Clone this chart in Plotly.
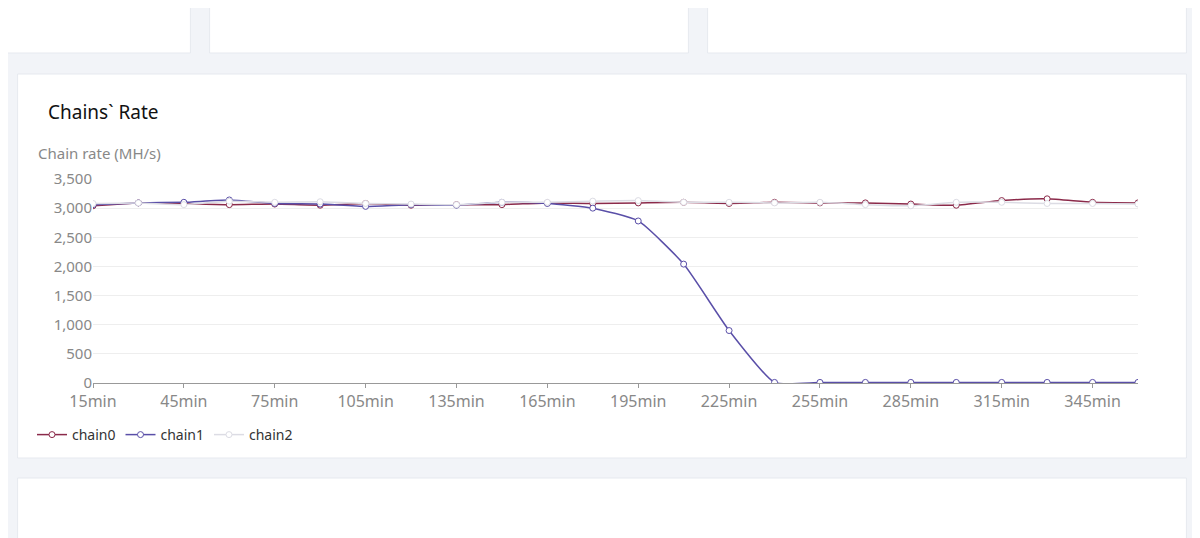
import plotly.graph_objects as go

minutes = list(range(15, 361, 15))
chain0 = [3040, 3090, 3080, 3060, 3070, 3050, 3080, 3050, 3060, 3060, 3090, 3080, 3090, 3100, 3080, 3100, 3090, 3090, 3070, 3050, 3130, 3160, 3100, 3090]
chain1 = [3060, 3090, 3100, 3140, 3080, 3070, 3030, 3060, 3050, 3100, 3080, 3000, 2780, 2040, 900, 10, 10, 10, 10, 10, 10, 10, 10, 10]
chain2 = [3080, 3090, 3060, 3120, 3100, 3110, 3080, 3070, 3060, 3100, 3100, 3120, 3130, 3100, 3100, 3090, 3100, 3060, 3040, 3100, 3100, 3080, 3080, 3070]
tick_vals = list(range(15, 346, 30))

fig = go.Figure()
for name, vals, col in [("chain0", chain0, "#8b2a4a"), ("chain1", chain1, "#5a4fa8"), ("chain2", chain2, "#dcdce4")]:
    fig.add_trace(go.Scatter(x=minutes, y=vals, name=name, mode="lines+markers",
                             line=dict(color=col, width=1.5, shape="spline", smoothing=0.5),
                             marker=dict(size=6, color="white", line=dict(color=col, width=1))))

bg = "#f2f4f8"
card = dict(type="rect", xref="paper", yref="paper", fillcolor="white", line=dict(color="#e6e9ef", width=1), layer="below")
shapes = [
    dict(card, x0=-0.01, x1=0.152, y0=1 - 45 / 538, y1=1.05),
    dict(card, x0=0.168, x1=0.567, y0=1 - 45 / 538, y1=1.05),
    dict(card, x0=0.583, x1=0.982, y0=1 - 45 / 538, y1=1.05),
    dict(card, x0=0.008, x1=0.982, y0=1 - 450 / 538, y1=1 - 66 / 538),
    dict(card, x0=0.008, x1=0.982, y0=-0.05, y1=1 - 470 / 538),
]

fig.update_layout(
    width=1200, height=538, margin=dict(l=0, r=0, t=0, b=0, autoexpand=False),
    paper_bgcolor=bg, plot_bgcolor="rgba(0,0,0,0)",
    font=dict(family="Noto Sans", color="#888"),
    shapes=shapes,
    xaxis=dict(domain=[85 / 1200, 1130 / 1200], range=[15, 360], tickvals=tick_vals, ticktext=[f"{v}min" for v in tick_vals],
               showgrid=False, showline=True, linecolor="#999", ticks="outside", ticklen=4, tickcolor="#999",
               tickfont=dict(size=16, color="#888")),
    yaxis=dict(domain=[1 - 375 / 538, 1 - 171 / 538], range=[0, 3500], dtick=500, tickformat=",", gridcolor="#eeeeee",
               zeroline=False, tickfont=dict(size=15, color="#888")),
    legend=dict(orientation="h", x=0.02, y=1 - 427 / 538, yanchor="middle", font=dict(size=14, color="#333"), bgcolor="rgba(0,0,0,0)"),
    annotations=[
        dict(text="Chains` Rate", xref="paper", yref="paper", x=38 / 1200, y=1 - 104 / 538, xanchor="left", yanchor="middle",
             showarrow=False, font=dict(size=19, color="#111")),
        dict(text="Chain rate (MH/s)", xref="paper", yref="paper", x=28 / 1200, y=1 - 145 / 538, xanchor="left", yanchor="middle",
             showarrow=False, font=dict(size=15, color="#888")),
    ],
)
fig.write_html("out.html")
